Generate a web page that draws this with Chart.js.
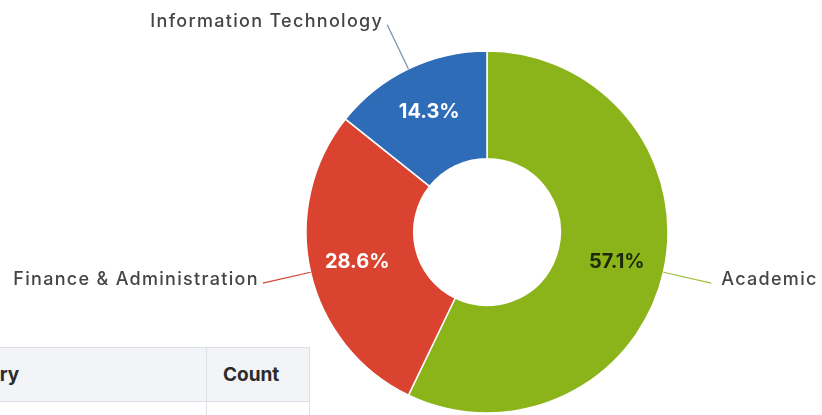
<!DOCTYPE html>
<html>
<head>
<meta charset="utf-8">
<script src="https://cdn.jsdelivr.net/npm/chart.js@4.4.1/dist/chart.umd.min.js"></script>
<style>
  html, body { margin: 0; padding: 0; background: #fff; overflow: hidden; }
  body { width: 822px; height: 415px; position: relative; }
  #chart { position: absolute; left: 0; top: 0; z-index: 2; }
  table.summary {
    position: absolute; left: -84px; top: 347px; z-index: 1;
    border-collapse: collapse; font-family: Inter, "Liberation Sans", sans-serif; color: #2b2b2b;
  }
  table.summary th, table.summary td { border: 1px solid #dcdfe5; padding: 0 16px; text-align: left; }
  table.summary th { background: #f3f4f7; height: 53px; font-weight: 700; font-size: 19px; }
  table.summary td { height: 48px; font-size: 17px; }
</style>
</head>
<body>
<table class="summary" id="summary">
  <thead><tr><th style="width:257px">Category</th><th style="width:70px">Count</th></tr></thead>
  <tbody></tbody>
</table>
<canvas id="chart" width="822" height="415"></canvas>
<script>
const categories = ["Academic", "Finance & Administration", "Information Technology"];
const counts = [4, 2, 1];
const sliceColors = ["#8bb31a", "#d9432f", "#2f6cb8"];
const leaderColors = ["#9cc03a", "#d9432f", "#6f8fae"];
const pctColors = ["#1d2a07", "#ffffff", "#ffffff"];

// table rows (mostly below the visible area)
const tbody = document.querySelector("#summary tbody");
categories.forEach((c, i) => {
  const tr = document.createElement("tr");
  tr.innerHTML = `<td>${c}</td><td>${counts[i]}</td>`;
  tbody.appendChild(tr);
});

const total = counts.reduce((a, b) => a + b, 0);

const sliceLabels = {
  id: "sliceLabels",
  afterDatasetsDraw(chart) {
    const ctx = chart.ctx;
    const arcs = chart.getDatasetMeta(0).data;
    ctx.save();
    arcs.forEach((arc, i) => {
      const { x, y, startAngle, endAngle, innerRadius, outerRadius } =
        arc.getProps(["x", "y", "startAngle", "endAngle", "innerRadius", "outerRadius"], true);
      const mid = (startAngle + endAngle) / 2;
      const cos = Math.cos(mid), sin = Math.sin(mid);

      // percentage inside the ring
      const r = (innerRadius + outerRadius) / 2 + 6;
      ctx.font = "700 20px Inter, 'Liberation Sans', sans-serif";
      ctx.fillStyle = pctColors[i];
      ctx.textAlign = "center";
      ctx.textBaseline = "middle";
      ctx.fillText((counts[i] / total * 100).toFixed(1) + "%", x + cos * r, y + sin * r);

      // leader line + category name
      const x1 = x + cos * outerRadius, y1 = y + sin * outerRadius;
      const x2 = x + cos * (outerRadius + 49), y2 = y + sin * (outerRadius + 49);
      ctx.strokeStyle = leaderColors[i];
      ctx.lineWidth = 1.2;
      ctx.beginPath();
      ctx.moveTo(x1, y1);
      ctx.lineTo(x2, y2);
      ctx.stroke();

      ctx.font = "500 18px Inter, 'Liberation Sans', sans-serif";
      ctx.letterSpacing = "1.3px";
      ctx.fillStyle = "#444444";
      ctx.textBaseline = "alphabetic";
      if (cos < 0) {
        ctx.textAlign = "right";
        ctx.fillText(categories[i], x2 - 4, y2 + 2);
      } else {
        ctx.textAlign = "left";
        ctx.fillText(categories[i], x2 + 10, y2 + 2);
      }
      ctx.letterSpacing = "0px";
    });
    ctx.restore();
  }
};

new Chart(document.getElementById("chart").getContext("2d"), {
  type: "doughnut",
  data: {
    labels: categories,
    datasets: [{
      data: counts,
      backgroundColor: sliceColors,
      borderColor: "#ffffff",
      borderWidth: 1.5,
      hoverOffset: 0
    }]
  },
  options: {
    responsive: false,
    animation: false,
    radius: 181,
    cutout: 73,
    layout: { padding: { left: 306, right: 154, top: 51, bottom: 2 } },
    plugins: {
      legend: { display: false },
      tooltip: { enabled: false }
    }
  },
  plugins: [sliceLabels]
});
</script>
</body>
</html>
